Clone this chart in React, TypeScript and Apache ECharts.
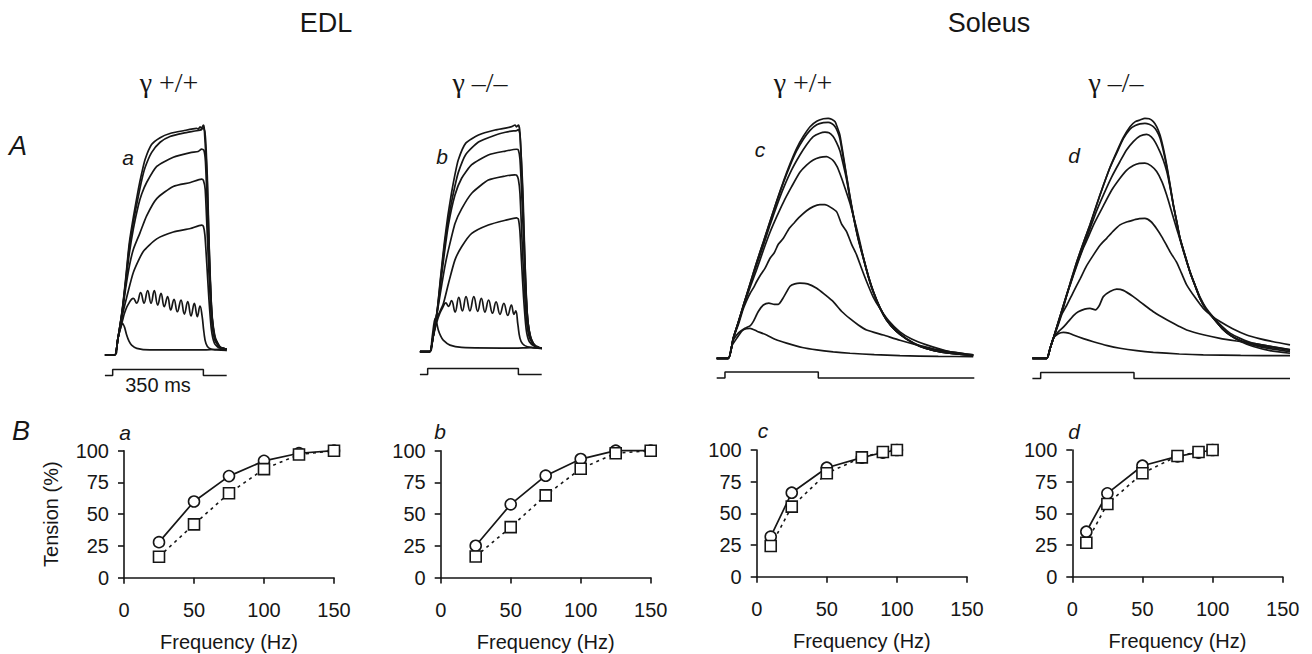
import React, { useEffect, useRef } from "react";
import * as echarts from "echarts";

// ---------- A: force traces (time in ms from stimulus onset, tension in % of max) ----------
// EDL gamma +/+ (panel a): twitch, 25, 50, 75, 100, 125, 150 Hz
const aTwitch = [[-30,0],[8,0],[20,7],[30,11.5],[38,13.8],[46,12],[54,8.7],[63,6],[73,4.3],[93,2.9],[144,2.2],[337,2.2],[414,2.5],[440,2]];
const a25 = [[-30,0],[8,0],[20,7],[38,15],[47.5,18.8],[60,22],[79.6,24.6],[92.7,22.5],[108,27.1],[121,22.5],[135,28],[148,22.5],[160.6,28],[173.7,21.7],[186.5,26.8],[199,21],[212,25.4],[224,19.6],[236.7,24.2],[249.6,18.8],[263.7,23.9],[276.6,17.8],[289.6,23.2],[302.3,17],[315,22.5],[326.6,16.7],[337,21.3],[345,17],[352,10],[360,5],[372,3],[400,2.2],[440,2]];
const a50 = [[-30,0],[8,0],[20,7],[38,17.5],[54,25],[80,36],[118,45],[170,50.5],[234,53.5],[300,55],[343,56.5],[350,56],[356,52],[363,40],[371,25],[381,11],[393,5],[412,3],[440,2.5]];
const a75 = [[-30,0],[8,0],[20,7],[37,18.5],[50,29],[65,39],[80,46],[105,53],[131,60.5],[170,68],[234,73.3],[300,75],[343,76.5],[350,76],[357,72],[364,55],[372,34],[382,15],[394,6.5],[412,3.5],[440,2.5]];
const a100 = [[-30,0],[8,0],[20,7],[37,19],[50,31],[64,44],[80,55],[99,65],[112,70],[131,75],[170,82],[234,86],[300,88],[330,88.5],[343,89.5],[352,89],[358,84],[366,62],[374,38],[384,16],[396,7],[414,3.5],[440,2.5]];
const a125 = [[-30,0],[8,0],[20,7],[37,19.5],[50,32],[64,47],[80,58],[99,69],[112,76],[125,81.5],[150,88],[183,92.5],[221,95],[273,96.5],[324,97.5],[343,98],[350,98.8],[356,97],[362,86],[370,55],[380,22],[393,8],[412,3.6],[440,2.5]];
const a150 = [[-30,0],[8,0],[20,7],[37,19.6],[50,33],[64,48.5],[80,60],[99,72],[112,79],[125,85],[150,91.5],[183,94.5],[221,96.3],[273,97.5],[324,98.5],[330,98.2],[337,99.2],[343,98.6],[350,100],[353,99],[358,90],[365,78],[372,48.5],[382,19.6],[395,8],[414,3.6],[440,2.5]];

// EDL gamma -/- (panel b)
const bTwitch = [[-30,0],[8,0],[18,7],[28,14.7],[35,12.5],[41,9.6],[50,7],[60,5.1],[86,2.9],[131,1.9],[337,1.6],[400,1.8],[440,1.5]];
const b25 = [[-30,0],[8,0],[20,6],[35,13],[47,17],[58,19.5],[70,21.5],[80,20],[92,22.5],[106,17.5],[120,24],[134,18],[148,24.3],[163,18],[178,24.3],[193,17.8],[207,23.5],[221,17.5],[235,22.8],[250,17],[264,22],[279,16.5],[294,21.3],[309,16],[323,20.6],[333,16.5],[340,18],[348,12],[356,6],[366,3.5],[385,2.2],[440,1.5]];
const b50 = [[-30,0],[8,0],[20,6],[37,15],[60,21],[80,30],[105,40.4],[131,46.3],[170,52.2],[234,55.9],[300,58],[343,59],[350,58.5],[356,53],[362,40],[370,24],[380,10],[392,4.5],[414,2.3],[440,1.5]];
const b75 = [[-30,0],[8,0],[20,6],[37,17.5],[55,30],[67,38],[80,44.9],[105.5,56.6],[131,63],[170,69.9],[234,75.7],[300,77.5],[336,78],[343,77.9],[350,76],[356,70],[363,52],[371,32],[381,14],[393,6],[414,2.5],[440,1.5]];
const b100 = [[-30,0],[8,0],[20,6],[37,18],[50,30],[64,43],[80,56],[105,69],[131,76.5],[170,82.5],[234,86.8],[300,88.5],[343,89.3],[350,89],[356,85],[362,72],[370,50],[378,28],[388,12],[400,5],[418,2.5],[440,1.5]];
const b125 = [[-30,0],[8,0],[20,6],[37,18.2],[50,32],[64,46],[78,57],[92,66],[105,73],[118,79],[147,87],[196,92.5],[260,95.5],[300,96.8],[324,97.3],[343,97.5],[350,98],[356,96],[362,83],[369,60],[377,34],[386,14],[398,6],[414,2.5],[440,1.5]];
const b150 = [[-30,0],[8,0],[20,6],[37,18.4],[50,33],[64,47.8],[78,60],[92,70],[105,78],[118,84.6],[147,92],[196,95.6],[260,97.8],[300,98.6],[324,99.3],[337,100],[343,99.2],[350,100],[355,98],[360,88],[367,72],[374,45],[383,18],[396,7],[414,2.5],[440,1.5]];

// Soleus gamma +/+ (panel c): twitch, 10, 25, 50, 75, 90, 100 Hz
const cTwitch = [[-31,0],[12.5,0],[25,5],[44,8.3],[65,11.5],[80,12.3],[94,12.5],[120,11.3],[156,9.7],[190,7.8],[231,6.3],[290,4.5],[344,3.5],[406,2.7],[469,2.1],[560,1.5],[656,1.1],[800,0.8],[931,0.7]];
const c10 = [[-31,0],[12.5,0],[31,7.5],[50,10.5],[75,12.5],[94,13.5],[106,15.3],[125,19.5],[144,22.2],[165,23],[185,22.5],[200,22.5],[220,25.5],[244,30],[262,31],[281,31.3],[310,31],[344,29.2],[375,26.5],[406,23.6],[438,19.5],[469,16.5],[500,13.9],[531,11.8],[594,9.7],[656,7.5],[719,5.6],[800,3.5],[931,1.4]];
const c25 = [[-31,0],[12.5,0],[31,8.3],[50,14],[69,20.8],[85,25],[94,27],[110,30],[119,32],[135,35],[150,37.5],[169,41.7],[185,44],[200,47.5],[219,50],[240,54],[260,56.5],[281,59],[306,61.5],[331,63.2],[356,64],[375,64],[395,63],[419,61],[437,56],[456,52.8],[475,47.5],[494,43],[512,37.5],[531,32],[556,25.5],[581,20.8],[615,15.5],[656,11],[700,8],[756,5.6],[840,2.8],[931,1.4]];
const c50 = [[-31,0],[12.5,0],[31,8.3],[50,14.8],[69,21.5],[94,29.5],[119,37],[144,45],[169,52.5],[194,59],[219,65],[250,71.5],[281,77.5],[306,80.5],[331,82.6],[356,83.7],[381,84],[405,82.5],[420,80],[431,77],[450,71],[469,64.5],[481,59.5],[494,54],[507,48],[519,42],[538,34.2],[556,28],[581,21.2],[606,16.2],[640,11.8],[681,8.2],[730,5.2],[781,3.4],[850,2.1],[931,1.2]];
const c75 = [[-31,0],[12.5,0],[31,8.3],[50,15],[69,22],[94,30.5],[119,39],[144,47],[169,55.6],[194,63.5],[219,70.8],[250,78.5],[281,84.7],[306,89],[331,92.4],[356,93.8],[375,94.2],[390,94],[405,92.5],[418,90],[431,86.5],[443,81],[456,74.5],[468,67],[481,59.5],[500,49.8],[519,41.8],[538,34],[556,27.8],[581,21],[606,16],[640,11.5],[681,8],[730,5],[781,3.3],[850,2],[931,1.2]];
const c90 = [[-31,0],[12.5,0],[31,8.3],[50,15],[69,22],[94,31],[119,40],[144,48.5],[169,57],[194,65.3],[219,73.2],[244,80.3],[269,86.5],[294,91.3],[319,95],[344,97.3],[369,98.2],[387,98.3],[400,97.8],[413,96.5],[422,94.5],[431,91.5],[443,84],[456,75.5],[468,67.5],[481,59.5],[500,49.5],[519,41.5],[538,33.8],[556,27.6],[581,21],[606,16],[640,11.5],[681,8],[730,5],[781,3.3],[850,2],[931,1.2]];
const c100 = [[-31,0],[12.5,0],[31,8.3],[50,15],[69,22],[94,31],[119,40],[144,48.5],[169,57],[194,65.5],[219,73.6],[244,81],[269,87.5],[294,92.5],[319,96.5],[344,98.8],[369,99.8],[387,100],[400,99.6],[413,98.6],[422,96],[431,93],[443,85],[456,76],[468,68],[481,60],[500,50],[519,42],[538,34],[556,27.8],[581,21],[606,16],[640,11.5],[681,8],[730,5],[781,3.3],[850,2],[931,1.2]];

// Soleus gamma -/- (panel d)
const dTwitch = [[-31,0],[22.5,0],[35,4],[47.5,8.3],[66,10.2],[85,10.8],[105,10.5],[122.5,9.7],[160,8.2],[197.5,6.9],[250,5.3],[297.5,4.2],[360,3.2],[422.5,2.5],[520,1.8],[610,1.4],[750,1.2],[935,1.1]];
const d10 = [[-31,0],[22.5,0],[35,4],[47.5,8.3],[66,11],[85,13],[105,15.5],[125,18],[141,19.4],[165,20.5],[185,20.8],[205,20.2],[220,22],[235,25.7],[260,27.8],[285,28.8],[310,28.3],[347.5,25.7],[385,22.5],[422.5,19.4],[455,17.2],[485,15.3],[516,13.5],[547.5,11.8],[610,9.8],[672.5,8.3],[735,7.2],[797.5,6.2],[860,5],[935,3.5]];
const d25 = [[-31,0],[22.5,0],[35,4],[47.5,8.3],[66,14],[80,18.5],[97.5,22],[122,27.5],[147.5,33],[172,38.5],[197.5,43],[222,47],[247.5,50],[272,53],[297.5,55.6],[322,56.8],[347.5,57.6],[370,58.2],[391,58.3],[413,57],[435,54],[455,50.5],[472.5,47],[490,43.5],[510,40],[528,35.5],[547.5,30.6],[578,25.5],[610,20.8],[640,17.8],[672.5,15.3],[720,12.3],[772.5,9.7],[820,8.2],[872.5,6.9],[935,5.6]];
const d50 = [[-31,0],[22.5,0],[35,4],[47.5,8.3],[66,14.5],[85,21],[97,26],[110,30.5],[135,38.5],[160,46],[172.5,49],[200,56],[235,63.5],[266,70],[297.5,75],[322,78.3],[347.5,80.3],[370,81.2],[391,81.3],[413,80.3],[435,77.8],[455,73.5],[472.5,68],[490,61.5],[510,54],[522.5,49.5],[541,42.5],[560,36],[580,30.2],[597.5,25.5],[620,21],[647.5,17.2],[680,13.3],[710,10.5],[750,8.2],[797.5,6.2],[860,5],[935,3.6]];
const d75 = [[-31,0],[22.5,0],[35,4],[47.5,8.3],[66,15],[85,21.8],[110,30.5],[135,39],[160,46.5],[185,54],[210,61.5],[235,68],[266,75.5],[297.5,82],[322,86.8],[347.5,90.3],[372.5,92.6],[397.5,93.3],[415,92.3],[430,90],[447.5,86],[460,82.5],[472.5,78],[485,71.5],[497.5,63.8],[510,57],[522.5,50],[541,43],[560,36],[580,30],[597.5,25],[620,20.5],[647.5,16.7],[680,12.5],[710,9.7],[750,7.4],[797.5,5.8],[860,4.5],[935,3.3]];
const d90 = [[-31,0],[22.5,0],[35,4],[47.5,8.3],[66,15],[85,22],[110,31],[135,40],[160,48],[185,55.6],[210,64],[235,72],[260,79.5],[285,85.5],[310,91.5],[335,95.5],[355,97],[372.5,97.7],[391,97.9],[407,97.5],[422.5,96.5],[435,94.8],[447.5,91.8],[460,86.5],[472.5,80],[485,72],[497.5,63.8],[510,57],[522.5,50],[541,43],[560,36],[580,30],[597.5,25],[620,20.5],[647.5,16.7],[680,12.5],[710,9.7],[750,7.2],[797.5,5.5],[860,4],[935,2.8]];
const d100 = [[-31,0],[22.5,0],[35,4],[47.5,8.3],[66,15],[85,22],[110,31],[135,40],[160,48],[185,55.6],[210,64],[235,72],[260,79.5],[285,86],[310,92],[335,96.5],[355,98.6],[372.5,99.3],[391,100],[407,99.8],[422.5,98.6],[435,96.5],[447.5,93],[460,87.5],[472.5,80.6],[485,72.5],[497.5,64],[510,57],[522.5,50],[541,43],[560,36],[580,30],[597.5,25],[620,20.5],[647.5,16.7],[680,12.5],[710,9.7],[750,7],[797.5,4.9],[860,3.2],[935,2.1]];

// Stimulus protocol (350 ms train): 0 = off, 1 = on
const stimEdl = [[-30,0],[0,0],[0,1],[350,1],[350,0],[440,0]];
const stimSol = [[-31,0],[0,0],[0,1],[350,1],[350,0],[935,0]];

// ---------- B: force-frequency relations ----------
const edlFreq = [25, 50, 75, 100, 125, 150];
const solFreq = [10, 25, 50, 75, 90, 100];
const aWt = [28, 60, 80, 92, 98, 100];
const aKo = [16.5, 42, 66.5, 85.5, 97, 100];
const bWt = [25, 57.7, 80.3, 93.4, 100, 100];
const bKo = [16.6, 39.7, 64.8, 85.8, 98, 100];
const cWt = [31.6, 66.3, 86, 94, 98, 100];
const cKo = [24.2, 55.3, 81.6, 94.2, 98.4, 100];
const dWt = [35.5, 65.8, 87.6, 95, 98, 100];
const dKo = [26.8, 57.4, 81.6, 95.3, 98.4, 100];
const freqTicks = [0, 50, 100, 150];
const tensionTicks = [0, 25, 50, 75, 100];

const SANS = '"Liberation Sans", Arial, Helvetica, sans-serif';
const SERIF = '"Liberation Serif", "Times New Roman", serif';
const INK = "#161616";

function buildOption() {
  const traceGrids = [
    { left: 104.9, top: 125, width: 121.8, height: 230, t: [-30, 440] },
    { left: 419.9, top: 125, width: 121.8, height: 226.7, t: [-30, 440] },
    { left: 716.7, top: 118.3, width: 257.6, height: 240, t: [-31, 935] },
    { left: 1032.4, top: 118.3, width: 257.6, height: 240, t: [-31, 935] },
  ];
  const stimGrids = [
    { left: 104.9, top: 369.5, width: 121.8, height: 6, t: [-30, 440] },
    { left: 419.9, top: 368.5, width: 121.8, height: 6, t: [-30, 440] },
    { left: 716.7, top: 372, width: 257.6, height: 6, t: [-31, 935] },
    { left: 1032.4, top: 372.5, width: 257.6, height: 6, t: [-31, 935] },
  ];
  const bottomGrids = [
    { left: 124, top: 450.7, width: 210, height: 127 },
    { left: 440.7, top: 450.7, width: 210, height: 126.8 },
    { left: 756.7, top: 450, width: 210.3, height: 126.7 },
    { left: 1072.3, top: 450, width: 210.4, height: 126.7 },
  ];

  const grid: any[] = [];
  const xAxis: any[] = [];
  const yAxis: any[] = [];
  const series: any[] = [];

  const panelTraces = [
    [aTwitch, a25, a50, a75, a100, a125, a150],
    [bTwitch, b25, b50, b75, b100, b125, b150],
    [cTwitch, c10, c25, c50, c75, c90, c100],
    [dTwitch, d10, d25, d50, d75, d90, d100],
  ];
  const stims = [stimEdl, stimEdl, stimSol, stimSol];

  traceGrids.forEach((g, i) => {
    const idx = grid.length;
    grid.push({ left: g.left, top: g.top, width: g.width, height: g.height });
    xAxis.push({ gridIndex: idx, type: "value", min: g.t[0], max: g.t[1], show: false });
    yAxis.push({ gridIndex: idx, type: "value", min: 0, max: 100, show: false });
    panelTraces[i].forEach((tr, k) => {
      series.push({
        type: "line", xAxisIndex: idx, yAxisIndex: idx, data: tr,
        symbol: "none", smooth: i < 2 && k === 1 ? 0.45 : 0.2, clip: false, silent: true,
        lineStyle: { color: INK, width: 1.7 },
      });
    });
  });
  stimGrids.forEach((g, i) => {
    const idx = grid.length;
    grid.push({ left: g.left, top: g.top, width: g.width, height: g.height });
    xAxis.push({ gridIndex: idx, type: "value", min: g.t[0], max: g.t[1], show: false });
    yAxis.push({ gridIndex: idx, type: "value", min: 0, max: 1, show: false });
    series.push({
      type: "line", xAxisIndex: idx, yAxisIndex: idx, data: stims[i],
      symbol: "none", clip: false, silent: true,
      lineStyle: { color: INK, width: 1.5 },
    });
  });

  const bottomData = [
    [edlFreq, aWt, aKo], [edlFreq, bWt, bKo], [solFreq, cWt, cKo], [solFreq, dWt, dKo],
  ];
  bottomGrids.forEach((g, i) => {
    const idx = grid.length;
    grid.push({ left: g.left, top: g.top, width: g.width, height: g.height });
    xAxis.push({
      gridIndex: idx, type: "value", min: freqTicks[0], max: freqTicks[freqTicks.length - 1], interval: 50,
      splitLine: { show: false },
      axisLine: { show: true, onZero: false, lineStyle: { color: INK, width: 1.6 } },
      axisTick: { show: true, length: 6, lineStyle: { color: INK, width: 1.6 } },
      axisLabel: { color: INK, fontSize: 20, fontFamily: SANS, margin: 22 },
      name: "Frequency (Hz)", nameLocation: "middle", nameGap: 54,
      nameTextStyle: { color: INK, fontSize: 20, fontFamily: SANS },
    });
    yAxis.push({
      gridIndex: idx, type: "value", min: tensionTicks[0], max: tensionTicks[tensionTicks.length - 1], interval: 25,
      splitLine: { show: false },
      axisLine: { show: true, onZero: false, lineStyle: { color: INK, width: 1.6 } },
      axisTick: { show: true, length: 6, lineStyle: { color: INK, width: 1.6 } },
      axisLabel: { color: INK, fontSize: 20, fontFamily: SANS, margin: 15 },
      name: i === 0 ? "Tension (%)" : "", nameLocation: "middle", nameGap: 63,
      nameTextStyle: { color: INK, fontSize: 20, fontFamily: SANS },
    });
    const [fx, wt, ko] = bottomData[i];
    series.push({
      type: "line", xAxisIndex: idx, yAxisIndex: idx, name: "γ +/+",
      data: fx.map((f, k) => [f, wt[k]]),
      symbol: "circle", symbolSize: 11, showSymbol: true, clip: false, silent: true,
      itemStyle: { color: "#fff", borderColor: INK, borderWidth: 1.6 },
      lineStyle: { color: INK, width: 1.7 },
    });
    series.push({
      type: "line", xAxisIndex: idx, yAxisIndex: idx, name: "γ –/–",
      data: fx.map((f, k) => [f, ko[k]]),
      symbol: "rect", symbolSize: 11, showSymbol: true, clip: false, silent: true,
      itemStyle: { color: "#fff", borderColor: INK, borderWidth: 1.6 },
      lineStyle: { color: INK, width: 1.6, type: [3, 4] },
    });
  });

  const txt = (text: string, x: number, y: number, fontSize: number, opts: any = {}) => ({
    type: "text", x, y, silent: true,
    style: {
      text, fill: INK, fontSize, fontFamily: opts.family || SANS,
      fontStyle: opts.italic ? "italic" : "normal",
      align: "center", verticalAlign: "middle",
    },
  });

  const graphic = [
    txt("EDL", 326, 23, 27),
    txt("Soleus", 989, 23, 27),
    txt("γ +/+", 169, 82, 28, { family: SERIF }),
    txt("γ –/–", 480, 82, 28, { family: SERIF }),
    txt("γ +/+", 803, 82, 28, { family: SERIF }),
    txt("γ –/–", 1116, 82, 28, { family: SERIF }),
    txt("A", 18, 146, 27, { italic: true }),
    txt("B", 21, 431, 27, { italic: true }),
    txt("a", 128, 157, 21, { italic: true }),
    txt("b", 442, 156, 21, { italic: true }),
    txt("c", 760, 149, 21, { italic: true }),
    txt("d", 1074, 155, 21, { italic: true }),
    txt("a", 125, 432, 21, { italic: true }),
    txt("b", 440, 431, 21, { italic: true }),
    txt("c", 763, 430, 21, { italic: true }),
    txt("d", 1074, 431, 21, { italic: true }),
    txt("350 ms", 158, 385, 20),
  ];

  return {
    animation: false,
    backgroundColor: "#ffffff",
    grid, xAxis, yAxis, series, graphic,
  };
}

export default function App() {
  const ref = useRef<HTMLDivElement>(null);
  useEffect(() => {
    document.body.style.margin = "0";
    if (!ref.current) return;
    const chart = echarts.init(ref.current, undefined, { renderer: "svg" });
    chart.setOption(buildOption() as any);
    return () => chart.dispose();
  }, []);
  return <div ref={ref} style={{ width: 1312, height: 654, background: "#fff" }} />;
}
